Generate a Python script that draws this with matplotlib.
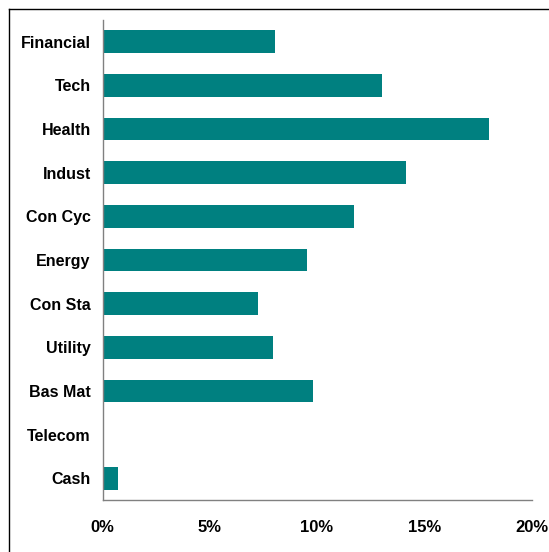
import matplotlib
matplotlib.use("Agg")
import matplotlib.pyplot as plt
from matplotlib.lines import Line2D
from matplotlib.ticker import FuncFormatter

categories = ["Financial", "Tech", "Health", "Indust", "Con Cyc", "Energy",
              "Con Sta", "Utility", "Bas Mat", "Telecom", "Cash"]
values = [8.04, 13.03, 18.02, 14.15, 11.72, 9.53, 7.25, 7.95, 9.81, 0.0, 0.72]
xticks = [0, 5, 10, 15, 20]

plt.rcParams['font.family'] = ['Liberation Sans', 'DejaVu Sans']

W, H = 549, 552
fig = plt.figure(figsize=(W / 100, H / 100), dpi=100)
ax = fig.add_axes([102.5 / W, (H - 500) / H, 429 / W, 480 / H])

ypos = list(range(len(categories)))
ax.barh(ypos, values, height=0.52, color="#008080")
ax.set_ylim(len(categories) - 0.5, -0.5)
ax.set_xlim(0, 20)
ax.set_yticks(ypos)
ax.set_yticklabels(categories, fontsize=11.5, fontweight="bold")
ax.set_xticks(xticks)
ax.xaxis.set_major_formatter(FuncFormatter(lambda v, p: f"{v:.0f}%"))
for lab in ax.get_xticklabels():
    lab.set_fontweight("bold")
    lab.set_fontsize(12)
ax.tick_params(axis="y", length=0, pad=8.5)
ax.tick_params(axis="x", length=0, pad=14.5)
for s in ("top", "right"):
    ax.spines[s].set_visible(False)
for s in ("left", "bottom"):
    ax.spines[s].set_color("#808080")
    ax.spines[s].set_linewidth(1.0)

# outer frame (top and left edges visible)
x0, y0 = 8.5 / W, 1 - 8.5 / H
fig.add_artist(Line2D([x0, 1.0], [y0, y0], transform=fig.transFigure, color="black", lw=1.0))
fig.add_artist(Line2D([x0, x0], [0.0, y0], transform=fig.transFigure, color="black", lw=1.0))

fig.savefig("out.png", dpi=100)
